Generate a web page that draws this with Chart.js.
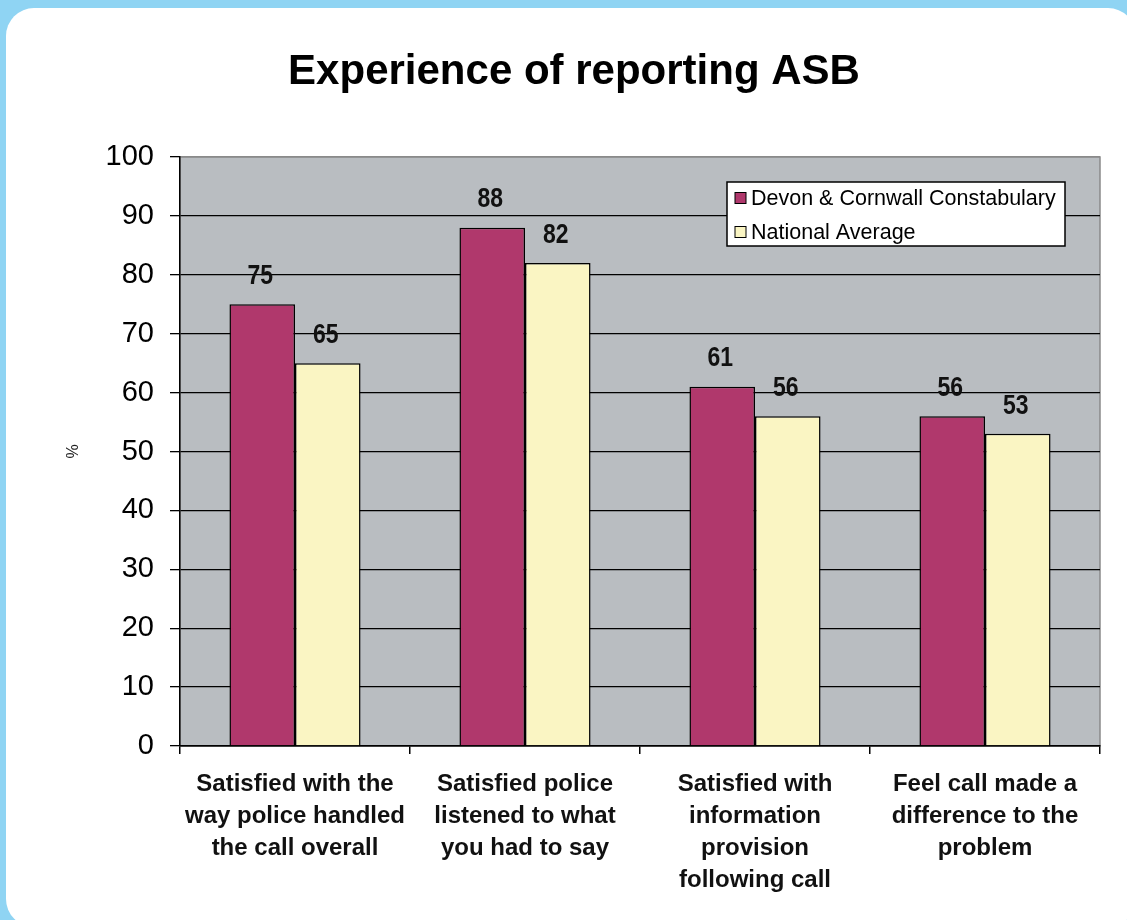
<!DOCTYPE html>
<html>
<head>
<meta charset="utf-8">
<title>Experience of reporting ASB</title>
<script src="https://cdn.jsdelivr.net/npm/chart.js@4.4.1/dist/chart.umd.min.js"></script>
<style>
  html, body { margin: 0; padding: 0; }
  body { width: 1127px; height: 920px; background: #8fd4f3; position: relative; overflow: hidden; }
  #panel { position: absolute; left: 6px; top: 8px; width: 1130px; height: 919px; background: #fff; border-radius: 28px; }
  #wrap { position: absolute; left: 0; top: 0; width: 1127px; height: 920px; }
</style>
</head>
<body>
<div id="panel"></div>
<div id="wrap"><canvas id="asb-chart" width="1127" height="920"></canvas></div>
<script>
const categories = [
  ["Satisfied with the", "way police handled", "the call overall"],
  ["Satisfied police", "listened to what", "you had to say"],
  ["Satisfied with", "information", "provision", "following call"],
  ["Feel call made a", "difference to the", "problem"],
];
const devonValues = [75, 88, 61, 56];
const nationalValues = [65, 82, 56, 53];
const seriesNames = ["Devon & Cornwall Constabulary", "National Average"];
const yTicks = [0, 10, 20, 30, 40, 50, 60, 70, 80, 90, 100];

// gray plot area with a thin darker frame
const plotBackground = {
  id: "plotBackground",
  beforeDraw(chart) {
    const { ctx, chartArea: a } = chart;
    ctx.save();
    ctx.fillStyle = "#b9bdc1";
    ctx.fillRect(a.left, a.top, a.right - a.left, a.bottom - a.top);
    ctx.strokeStyle = "#8a8a8a";
    ctx.lineWidth = 1.5;
    ctx.strokeRect(a.left, a.top, a.right - a.left, a.bottom - a.top);
    ctx.restore();
  },
};

// value above each bar (narrowed bold sans)
const barValues = {
  id: "barValues",
  afterDatasetsDraw(chart) {
    const { ctx } = chart;
    chart.data.datasets.forEach((ds, i) => {
      chart.getDatasetMeta(i).data.forEach((bar, j) => {
        ctx.save();
        ctx.translate(bar.x - 2, bar.y - 28);
        ctx.scale(0.82, 1);
        ctx.font = "bold 28px 'Liberation Sans', Arial, sans-serif";
        ctx.fillStyle = "#111";
        ctx.textAlign = "center";
        ctx.textBaseline = "middle";
        ctx.fillText(ds.data[j], 0, 0);
        ctx.restore();
      });
    });
  },
};

// boxed legend inside the top right of the plot
const boxLegend = {
  id: "boxLegend",
  afterDraw(chart) {
    const { ctx, chartArea: a } = chart;
    const w = 338, h = 64;
    const x = a.right - 35 - w, y = a.top + 25;
    ctx.save();
    ctx.fillStyle = "#fff";
    ctx.fillRect(x, y, w, h);
    ctx.strokeStyle = "#000";
    ctx.lineWidth = 1.5;
    ctx.strokeRect(x, y, w, h);
    ctx.font = "21.5px 'Liberation Sans', Arial, sans-serif";
    ctx.textBaseline = "middle";
    chart.data.datasets.forEach((ds, i) => {
      const cy = y + 16 + i * 34;
      ctx.fillStyle = ds.backgroundColor;
      ctx.fillRect(x + 8, cy - 5.5, 11, 11);
      ctx.lineWidth = 1;
      ctx.strokeRect(x + 8, cy - 5.5, 11, 11);
      ctx.fillStyle = "#000";
      ctx.fillText(ds.label, x + 24, cy + 1);
    });
    ctx.restore();
  },
};

const ctx = document.getElementById("asb-chart").getContext("2d");
new Chart(ctx, {
  type: "bar",
  data: {
    labels: categories,
    datasets: [
      {
        label: seriesNames[0],
        data: devonValues,
        backgroundColor: "#b0386c",
        borderColor: "#000",
        borderWidth: 1.5,
      },
      {
        label: seriesNames[1],
        data: nationalValues,
        backgroundColor: "#faf5c3",
        borderColor: "#000",
        borderWidth: 1.5,
      },
    ],
  },
  options: {
    responsive: false,
    animation: false,
    layout: { padding: { left: 48, right: 27, top: 0, bottom: 0 } },
    datasets: { bar: { categoryPercentage: 0.57, barPercentage: 1 } },
    scales: {
      x: {
        afterFit(scale) {
          scale.height = 174;
        },
        grid: {
          display: true,
          drawOnChartArea: false,
          drawTicks: true,
          tickLength: 8,
          color: "#000",
          lineWidth: 1.5,
        },
        border: { color: "#000", width: 1.5 },
        ticks: {
          color: "#111",
          padding: 14,
          maxRotation: 0,
          autoSkip: false,
          font: { family: "'Liberation Sans', Arial, sans-serif", size: 24, weight: "bold", lineHeight: "32px" },
        },
      },
      y: {
        min: 0,
        max: 100,
        afterFit(scale) {
          scale.width = 132;
        },
        afterBuildTicks(scale) {
          scale.ticks = yTicks.map((v) => ({ value: v }));
        },
        grid: {
          color: (c) => (c.tick && c.tick.value === 100 ? "#8a8a8a" : "#000"),
          tickColor: "#000",
          lineWidth: 1.3,
          tickLength: 10,
        },
        border: { color: "#000", width: 1.5 },
        ticks: {
          color: "#000",
          padding: 16,
          font: { family: "'Liberation Sans', Arial, sans-serif", size: 29 },
        },
        title: {
          display: true,
          text: "%",
          color: "#222",
          padding: { top: 16, bottom: 0 },
          font: { family: "'Liberation Sans', Arial, sans-serif", size: 16 },
        },
      },
    },
    plugins: {
      legend: { display: false },
      tooltip: { enabled: false },
      title: {
        display: true,
        text: "Experience of reporting ASB",
        color: "#000",
        font: { family: "'Liberation Sans', Arial, sans-serif", size: 42, weight: "bold", lineHeight: 1.2 },
        padding: { top: 47, bottom: 59.6 },
      },
    },
  },
  plugins: [plotBackground, barValues, boxLegend],
});
</script>
</body>
</html>
